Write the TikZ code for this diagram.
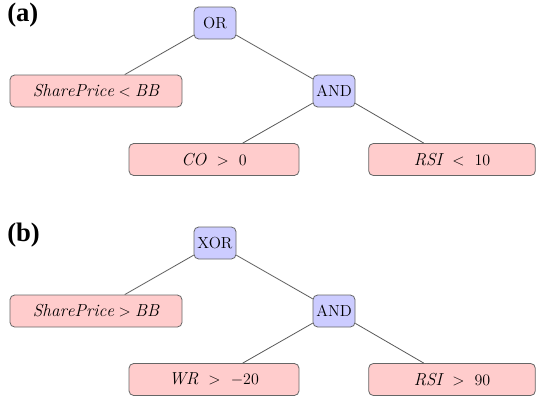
\documentclass[tikz,border=0pt]{standalone}
\usepackage{fontspec}
\newfontfamily\lblfont{Liberation Serif}[BoldFont={Liberation Serif Bold}]
\begin{document}
\begin{tikzpicture}[x=0.75pt,y=-0.75pt,
  opbox/.style={draw=black!60,fill=blue!20,rounded corners=3.5pt,line width=0.6pt,
    minimum width=31.5pt,minimum height=24pt,inner sep=0pt,
    font=\fontsize{12}{14}\selectfont},
  leafbox/.style={draw=black!60,fill=red!20,rounded corners=3.5pt,line width=0.6pt,
    minimum height=24pt,inner sep=0pt,font=\fontsize{13}{15}\selectfont},
  edge/.style={draw=black!65,line width=0.6pt},
  panel/.style={font=\lblfont\bfseries\fontsize{20}{23}\selectfont,anchor=north west,inner sep=0pt}]
\useasboundingbox (0,0) rectangle (536,396);
% panel (a)
\node[panel] (la) at (7,3) {(a)};
\node[opbox] (or) at (215,23) {OR};
\node[leafbox,minimum width=129pt] (sp1) at (96,91) {$\mathit{SharePrice} < \mathit{BB}$};
\node[opbox] (and1) at (334,91) {AND};
\node[leafbox,minimum width=127.5pt] (co) at (214,159.5) {$\mathit{CO}\ >\ 0$};
\node[leafbox,minimum width=125pt] (rsi1) at (452,159.5) {$\mathit{RSI}\ <\ 10$};
\draw[edge] (or) -- (sp1);
\draw[edge] (or) -- (and1);
\draw[edge] (and1) -- (co);
\draw[edge] (and1) -- (rsi1);
% panel (b)
\node[panel] (lb) at (7,223) {(b)};
\node[opbox] (xor) at (215,243) {XOR};
\node[leafbox,minimum width=129pt] (sp2) at (96,311) {$\mathit{SharePrice} > \mathit{BB}$};
\node[opbox] (and2) at (334,311) {AND};
\node[leafbox,minimum width=127.5pt] (wr) at (214,379.5) {$\mathit{WR}\ >\ -20$};
\node[leafbox,minimum width=125pt] (rsi2) at (452,379.5) {$\mathit{RSI}\ >\ 90$};
\draw[edge] (xor) -- (sp2);
\draw[edge] (xor) -- (and2);
\draw[edge] (and2) -- (wr);
\draw[edge] (and2) -- (rsi2);
\end{tikzpicture}
\end{document}
